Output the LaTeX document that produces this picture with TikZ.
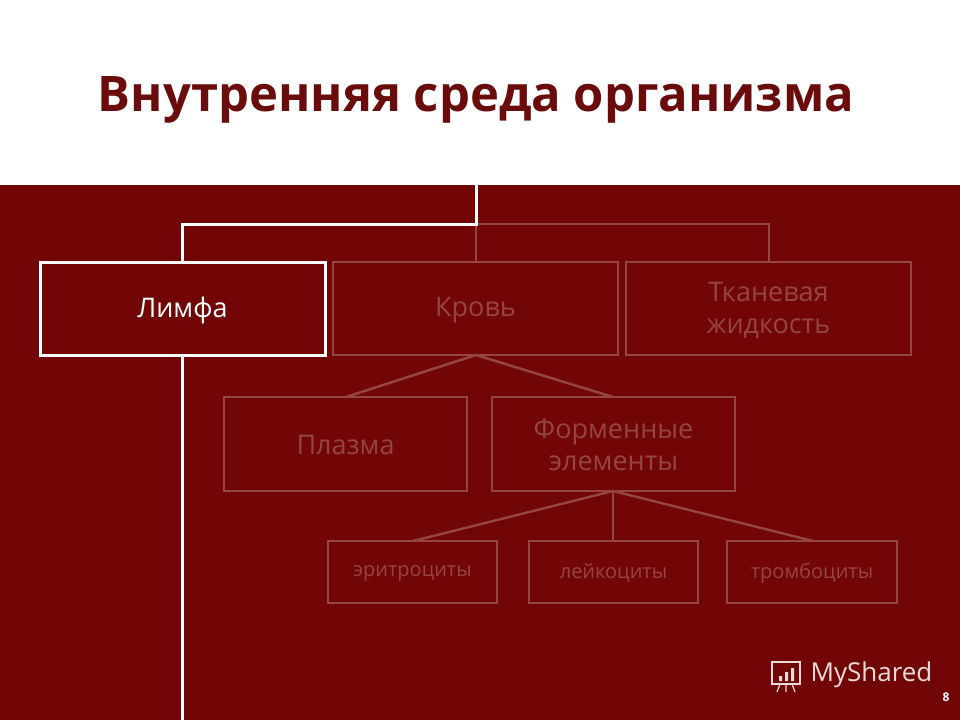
\documentclass[tikz,border=0pt]{standalone}
\usepackage{fontspec}
\setmainfont{Open Sans}
\begin{document}
\begin{tikzpicture}[x=1pt,y=-1pt,
  bx/.style={draw=white,line width=3pt},
  fb/.style={draw=fade,line width=2.5pt},
  sb/.style={draw=fade,line width=2.5pt},
  wl/.style={draw=white,line width=3pt},
  fl/.style={draw=fade,line width=2.5pt},
  bt/.style={text=fade,font=\fontsize{27}{32}\selectfont,align=center},
  st/.style={text=fade,font=\fontsize{20}{24}\selectfont}]
\definecolor{bg}{HTML}{720606}
\definecolor{ttl}{HTML}{6A0C0C}
\colorlet{fade}{white!25!bg}
\useasboundingbox (0,0) rectangle (960,720);
\fill[white] (0,0) rectangle (960,185);
\fill[bg] (0,185) rectangle (960,720);
\node[text=ttl,font=\bfseries\fontsize{49}{54}\selectfont] (title) at (476,100) {Внутренняя среда организма};
\path[bx] (40,262) rectangle (325,355);
\node[text=white,font=\fontsize{27}{30}\selectfont] (lim) at (182.5,310) {Лимфа};
\path[fb] (333,262) rectangle (618,355);
\node[bt] (kr) at (475.5,310) {Кровь};
\path[fb] (626,262) rectangle (911,355);
\node[bt] (tk) at (768.5,310) {Тканевая\\жидкость};
\path[fb] (224,397) rectangle (467,491);
\node[bt] (pl) at (345.5,445) {Плазма};
\path[fb] (492,397) rectangle (735,491);
\node[bt] (fe) at (613.5,445) {Форменные\\элементы};
\path[sb] (328,541) rectangle (497,603);
\node[st] (er) at (412.5,573) {эритроциты};
\path[sb] (529,541) rectangle (698,603);
\node[st] (le) at (613.5,573) {лейкоциты};
\path[sb] (727,541) rectangle (897,603);
\node[st] (tr) at (812,573) {тромбоциты};
% connectors
\draw[fl] (476,224) -- (769,224) -- (769,262);
\draw[fl] (476,224) -- (476,262);
\draw[wl] (476,185) -- (476,224) -- (182,224) -- (182,262);
\draw[wl] (182,355) -- (182,720);
\draw[fl] (346,397) -- (476,355) -- (613,397);
\draw[fl] (413,541) -- (613,491) -- (813,541);
\draw[fl] (613,491) -- (613,541);
% logo
\node[text=white!85!bg,font=\fontsize{26}{30}\selectfont,anchor=west] (ms) at (807,675) {MyShared};
\draw[white!85!bg,line width=1.5pt] (772,662) rectangle (800,684);
\fill[white!85!bg] (779,676) rectangle (782,681) (785,672) rectangle (788,681) (791,668) rectangle (794,681);
\draw[white!85!bg,line width=1.2pt] (780,684) -- (777,692) (786,684) -- (786,692) (792,684) -- (795,692);
\node[text=white,font=\bfseries\fontsize{12}{14}\selectfont] (pg) at (946,697) {8};
\end{tikzpicture}
\end{document}
